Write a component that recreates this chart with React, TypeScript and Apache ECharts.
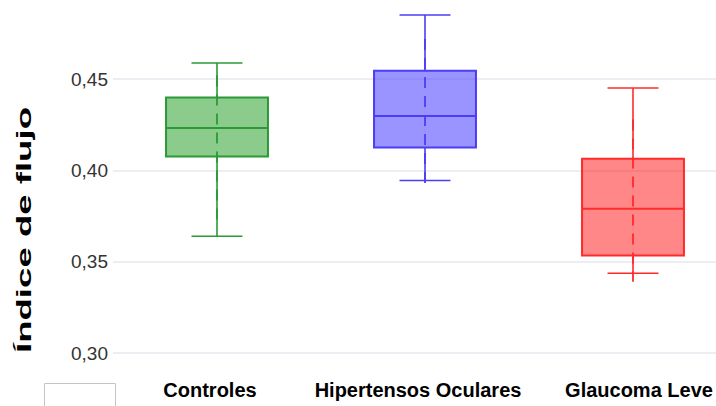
import React, { useEffect, useRef } from "react";
import * as echarts from "echarts";

const categories = ["Controles", "Hipertensos Oculares", "Glaucoma Leve"];
const lowWhisker = [0.364, 0.3945, 0.3437];
const q1 = [0.4077, 0.4126, 0.3534];
const median = [0.4233, 0.4298, 0.379];
const q3 = [0.44, 0.4547, 0.4064];
const highWhisker = [0.4589, 0.4852, 0.4452];
const dashLow = [0.372, 0.391, 0.339];
const dashHigh = [0.452, 0.472, 0.428];

const strokeColors = ["#2b9a36", "#4a3df5", "#ff2b2b"];
const fillColors = ["rgba(44,160,44,0.55)", "rgba(70,60,255,0.55)", "rgba(255,0,0,0.47)"];
const labelPads = [
  [0, 14, 0, 0],
  [0, 14, 0, 0],
  [0, 0, 0, 12],
];

const yTicks = [0.3, 0.35, 0.4, 0.45, 0.5];

const FONT = "'Liberation Sans', Arial, Helvetica, sans-serif";

export default function App() {
  const ref = useRef<HTMLDivElement>(null);
  useEffect(() => {
    if (!ref.current) return;
    const chart = echarts.init(ref.current, undefined, { renderer: "svg" });
    const data = categories.map((_, i) => [
      i,
      lowWhisker[i],
      q1[i],
      median[i],
      q3[i],
      highWhisker[i],
      dashLow[i],
      dashHigh[i],
    ]);
    const renderItem = (params: any, api: any) => {
      const idx = api.value(0);
      const band = api.size([1, 0])[0];
      const boxW = band * 0.49;
      const capW = band * 0.245;
      const pLow = api.coord([idx, api.value(1)]);
      const pQ1 = api.coord([idx, api.value(2)]);
      const pMed = api.coord([idx, api.value(3)]);
      const pQ3 = api.coord([idx, api.value(4)]);
      const pHigh = api.coord([idx, api.value(5)]);
      const pDL = api.coord([idx, api.value(6)]);
      const pDH = api.coord([idx, api.value(7)]);
      const cx = pMed[0];
      const stroke = strokeColors[idx];
      const fill = fillColors[idx];
      return {
        type: "group",
        children: [
          {
            type: "rect",
            shape: { x: cx - boxW / 2, y: pQ3[1], width: boxW, height: pQ1[1] - pQ3[1] },
            style: { fill: fill, stroke: stroke, lineWidth: 2 },
          },
          {
            type: "line",
            shape: { x1: cx, y1: pHigh[1], x2: cx, y2: pQ3[1] },
            style: { stroke: stroke, lineWidth: 1.6 },
          },
          {
            type: "line",
            shape: { x1: cx, y1: pQ1[1], x2: cx, y2: pLow[1] },
            style: { stroke: stroke, lineWidth: 1.6 },
          },
          {
            type: "line",
            shape: { x1: cx - capW / 2, y1: pHigh[1], x2: cx + capW / 2, y2: pHigh[1] },
            style: { stroke: stroke, lineWidth: 1.6 },
          },
          {
            type: "line",
            shape: { x1: cx - capW / 2, y1: pLow[1], x2: cx + capW / 2, y2: pLow[1] },
            style: { stroke: stroke, lineWidth: 1.6 },
          },
          {
            type: "line",
            shape: { x1: cx, y1: pDH[1], x2: cx, y2: pDL[1] },
            style: { stroke: stroke, lineWidth: 1.8, lineDash: [11, 8] },
          },
          {
            type: "line",
            shape: { x1: cx - boxW / 2, y1: pMed[1], x2: cx + boxW / 2, y2: pMed[1] },
            style: { stroke: stroke, lineWidth: 2 },
          },
        ],
      };
    };
    chart.setOption({
      animation: false,
      backgroundColor: "#ffffff",
      grid: {
        left: 113,
        right: -21,
        top: -12,
        bottom: 53,
        containLabel: false,
        outerBoundsMode: "none",
      },
      xAxis: {
        type: "category",
        data: categories.map((c, i) => ({ value: c, textStyle: { padding: labelPads[i] } })),
        boundaryGap: true,
        axisLine: { show: false },
        axisTick: { show: false },
        splitLine: { show: false },
        axisLabel: {
          color: "#000",
          fontWeight: "bold",
          fontSize: 20,
          fontFamily: FONT,
          margin: 27,
          interval: 0,
          hideOverlap: false,
        },
      },
      yAxis: {
        type: "value",
        min: yTicks[0],
        max: yTicks[yTicks.length - 1],
        interval: 0.05,
        axisLine: { show: false },
        axisTick: { show: false },
        splitLine: { show: true, lineStyle: { color: "#e6e9f1", width: 1.5 } },
        axisLabel: {
          color: "#333",
          fontSize: 19,
          fontFamily: FONT,
          margin: 5,
          padding: [0, 0, 8, 0],
          showMaxLabel: false,
          formatter: (v: number) => v.toFixed(2).replace(".", ","),
        },
      },
      series: [
        {
          type: "custom",
          renderItem: renderItem,
          encode: { x: 0, y: [1, 2, 3, 4, 5, 6, 7] },
          data: data,
          clip: false,
        },
      ],
      graphic: [
        {
          type: "text",
          x: 24,
          y: 230,
          rotation: Math.PI / 2,
          scaleX: 1.83,
          style: {
            text: "Índice de flujo",
            font: "bold 20px " + FONT,
            fill: "#000",
            align: "center",
            verticalAlign: "middle",
          },
        },
        {
          type: "rect",
          shape: { x: 44.5, y: 383.5, width: 71, height: 30 },
          style: { fill: "#fff", stroke: "#c4c4c4", lineWidth: 1 },
        },
      ],
    });
    return () => chart.dispose();
  }, []);
  return (
    <div
      ref={ref}
      style={{ position: "fixed", left: 0, top: 0, width: 716, height: 406 }}
    />
  );
}
